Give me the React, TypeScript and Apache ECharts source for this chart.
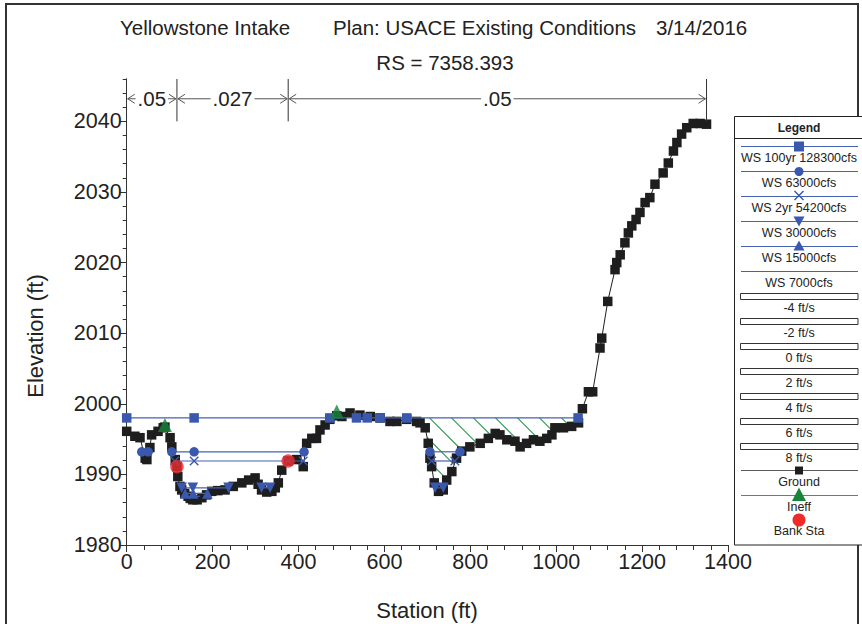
import React, { useEffect, useRef } from "react";
import * as echarts from "echarts";

// ---------- data ----------
const titleParts = ["Yellowstone Intake", "Plan: USACE Existing Conditions", "3/14/2016"];
const subtitle = "RS = 7358.393";
const xAxisName = "Station (ft)";
const yAxisName = "Elevation (ft)";

const groundStation = [0, 19, 31, 43, 47, 54, 58, 73, 85, 89, 101, 105, 113, 117, 119, 124, 128, 135, 143, 148, 154, 164, 175, 186, 198, 212, 229, 248, 268, 284, 299, 306, 314, 326, 338, 346, 353, 361, 376, 396, 411, 419, 431, 442, 450, 462, 473, 489, 501, 520, 543, 567, 590, 613, 629, 652, 675, 683, 695, 702, 706, 710, 716, 726, 737, 745, 757, 768, 780, 799, 823, 842, 858, 869, 885, 904, 916, 931, 947, 962, 978, 990, 997, 1017, 1036, 1052, 1061, 1075, 1085, 1102, 1106, 1120, 1137, 1141, 1149, 1160, 1168, 1176, 1186, 1195, 1207, 1218, 1230, 1249, 1261, 1273, 1281, 1292, 1304, 1319, 1335, 1350];
const groundElevation = [1996.1, 1995.4, 1995.2, 1992.3, 1992.1, 1993.8, 1995.6, 1996.1, 1996.6, 1996.7, 1995.2, 1993.9, 1992.1, 1991.1, 1989.7, 1988.3, 1987.8, 1987.3, 1986.9, 1986.6, 1986.4, 1986.4, 1986.7, 1987.1, 1987.6, 1987.7, 1987.8, 1988.3, 1988.8, 1989.2, 1989.5, 1988.6, 1987.8, 1987.5, 1987.6, 1988.1, 1988.8, 1990.6, 1991.9, 1992.1, 1991.1, 1994.4, 1995.1, 1995.1, 1996.3, 1997.0, 1997.8, 1998.3, 1998.2, 1998.7, 1998.4, 1998.2, 1998.0, 1997.5, 1997.5, 1997.8, 1997.5, 1997.3, 1996.6, 1994.4, 1992.3, 1991.1, 1988.8, 1987.6, 1987.8, 1989.2, 1990.4, 1992.3, 1993.3, 1993.9, 1994.4, 1995.1, 1995.8, 1995.6, 1994.9, 1994.7, 1993.9, 1994.4, 1994.9, 1994.7, 1995.1, 1995.6, 1996.6, 1996.6, 1996.8, 1997.3, 1999.3, 2001.7, 2001.7, 2007.9, 2009.3, 2014.5, 2019.0, 2020.0, 2021.1, 2022.8, 2024.2, 2025.2, 2026.1, 2027.1, 2028.5, 2029.2, 2031.1, 2032.7, 2034.1, 2035.8, 2037.0, 2038.2, 2039.1, 2039.7, 2039.7, 2039.6];

const wsNames = ["WS 100yr 128300cfs", "WS 63000cfs", "WS 2yr 54200cfs", "WS 30000cfs", "WS 15000cfs", "WS 7000cfs"];
const wsElevation = [1998.0, 1993.2, 1991.9, 1988.1, 1987.3, 1986.9];
const ws100Stations = [[0, 157, 473, 535, 560, 590, 652, 1051]];
const ws63000Stations = [[35, 50], [105, 157, 413], [706, 776]];
const ws54200Stations = [[112, 157, 376, 411], [710, 764]];
const ws30000Stations = [[128, 154, 237], [314, 334], [718, 737]];
const ws15000Stations = [[136, 155, 188]];
const ws7000Stations = [[148, 170]];

const ineffStation = [89, 489];
const ineffElevation = [1997.0, 1998.9];
const bankStation = [117, 376];
const bankElevation = [1991.1, 1991.9];

// ineffective (hatched) area on the right overbank, below the 100yr water surface
const hatchFromStation = 652;
const hatchToStation = 1052;

const manningBreaks = [0, 117, 376, 1350];
const manningValues = [".05", ".027", ".05"];

const velocityLabels = ["-4 ft/s", "-2 ft/s", "0 ft/s", "2 ft/s", "4 ft/s", "6 ft/s", "8 ft/s"];
const otherLegend = ["Ground", "Ineff", "Bank Sta"];

// ---------- styles ----------
const FONT = "Liberation Sans, Arial, Helvetica, sans-serif";
const WS_LINE = "#4562b4";
const WS_MARK = "#3a58ad";
const GROUND = "#1e1e1e";
const GREEN = "#17843a";
const HATCH = "#3a9a5a";
const RED = "#ee2a2a";
const TXT = "#222";
const X_PATH = "path://M0,1L1,0L5,4L9,0L10,1L6,5L10,9L9,10L5,6L1,10L0,9L4,5Z";

function xPolygon(cx: number, cy: number, s: number) {
  const pts = [[0, 1], [1, 0], [5, 4], [9, 0], [10, 1], [6, 5], [10, 9], [9, 10], [5, 6], [1, 10], [0, 9], [4, 5]];
  return pts.map(([a, b]) => [cx - s / 2 + (a * s) / 10, cy - s / 2 + (b * s) / 10]);
}

function wsSeries(idx: number, segments: number[][], symbol: string, size: number, rotate = 0) {
  return segments.map((seg) => ({
    type: "line",
    name: wsNames[idx],
    data: seg.map((s) => [s, wsElevation[idx]]),
    symbol,
    symbolSize: size,
    symbolRotate: rotate,
    showSymbol: symbol !== "none",
    lineStyle: { color: WS_LINE, width: 1.2 },
    itemStyle: { color: WS_MARK },
    z: 4,
    silent: true,
  }));
}

function buildOption() {
  const groundData = groundStation.map((s, i) => [s, groundElevation[i]]);
  const hatchPoly: number[][] = [[hatchFromStation, wsElevation[0]]];
  groundStation.forEach((s, i) => {
    if (s >= hatchFromStation && s <= hatchToStation) hatchPoly.push([s, groundElevation[i]]);
  });
  hatchPoly.push([hatchToStation, wsElevation[0]]);

  const manningData = manningValues.map((v, i) => [manningBreaks[i], manningBreaks[i + 1], i]);

  const series: any[] = [
    {
      type: "custom",
      name: "hatch",
      data: [[hatchFromStation, wsElevation[0]]],
      encode: { x: 0, y: 1 },
      z: 1,
      silent: true,
      renderItem: (params: any, api: any) => {
        const poly = hatchPoly.map((p) => api.coord(p));
        const ref = api.coord([705, wsElevation[0]]);
        const phase = ref[0] - ref[1];
        const spacing = 22;
        const xs = poly.map((p) => p[0]);
        const ys = poly.map((p) => p[1]);
        const minC = Math.min(...xs) - Math.max(...ys);
        const maxC = Math.max(...xs) - Math.min(...ys);
        const start = phase + Math.ceil((minC - phase) / spacing) * spacing;
        const children: any[] = [];
        for (let c = start; c <= maxC; c += spacing) {
          const pts: number[][] = [];
          for (let i = 0; i < poly.length; i++) {
            const a = poly[i];
            const b = poly[(i + 1) % poly.length];
            const fa = a[0] - a[1] - c;
            const fb = b[0] - b[1] - c;
            if (fa < 0 !== fb < 0) {
              const t = fa / (fa - fb);
              pts.push([a[0] + t * (b[0] - a[0]), a[1] + t * (b[1] - a[1])]);
            }
          }
          pts.sort((p, q) => p[0] - q[0]);
          for (let k = 0; k + 1 < pts.length; k += 2) {
            children.push({
              type: "line",
              shape: { x1: pts[k][0], y1: pts[k][1], x2: pts[k + 1][0], y2: pts[k + 1][1] },
              style: { stroke: HATCH, lineWidth: 1.2 },
            });
          }
        }
        return { type: "group", children };
      },
    },
    {
      type: "custom",
      name: "manning",
      data: manningData,
      encode: { x: [0, 1] },
      z: 5,
      clip: false,
      silent: true,
      renderItem: (params: any, api: any) => {
        const x0 = api.value(0);
        const x1 = api.value(1);
        const pL = api.coord([x0, 2043.2]);
        const pR = api.coord([x1, 2043.2]);
        const top = api.coord([x1, 2046]);
        const bot = api.coord([x1, 2040]);
        const y = pL[1];
        const ah = 8;
        const aw = 4.5;
        const stroke = "#555";
        return {
          type: "group",
          children: [
            { type: "line", shape: { x1: pL[0] + 1, y1: y, x2: pR[0] - 1, y2: y }, style: { stroke, lineWidth: 1 } },
            { type: "polyline", shape: { points: [[pL[0] + ah, y - aw], [pL[0] + 1, y], [pL[0] + ah, y + aw]] }, style: { stroke, lineWidth: 1, fill: "none" } },
            { type: "polyline", shape: { points: [[pR[0] - ah, y - aw], [pR[0] - 1, y], [pR[0] - ah, y + aw]] }, style: { stroke, lineWidth: 1, fill: "none" } },
            { type: "line", shape: { x1: top[0], y1: top[1], x2: bot[0], y2: bot[1] }, style: { stroke: "#333", lineWidth: 1 } },
            {
              type: "text",
              x: (pL[0] + pR[0]) / 2,
              y,
              style: {
                text: manningValues[params.dataIndex],
                fill: TXT,
                fontSize: 20.5,
                fontFamily: FONT,
                align: "center",
                verticalAlign: "middle",
                backgroundColor: "#fff",
                padding: [0, 2],
              },
            },
          ],
        };
      },
    },
    {
      type: "line",
      name: "Ground",
      data: groundData,
      symbol: "rect",
      symbolSize: 9.5,
      lineStyle: { color: GROUND, width: 1 },
      itemStyle: { color: GROUND },
      z: 3,
      silent: true,
    },
    ...wsSeries(0, ws100Stations, "rect", 9.5),
    ...wsSeries(1, ws63000Stations, "circle", 9.5),
    ...wsSeries(2, ws54200Stations, X_PATH, 9.5),
    ...wsSeries(3, ws30000Stations, "triangle", 10.5, 180),
    ...wsSeries(4, ws15000Stations, "triangle", 10.5),
    ...wsSeries(5, ws7000Stations, "none", 0),
    {
      type: "scatter",
      name: "Ineff",
      data: ineffStation.map((s, i) => [s, ineffElevation[i]]),
      symbol: "triangle",
      symbolSize: 14,
      itemStyle: { color: GREEN },
      z: 6,
      silent: true,
    },
    {
      type: "scatter",
      name: "Bank Sta",
      data: bankStation.map((s, i) => [s, bankElevation[i]]),
      symbol: "circle",
      symbolSize: 13.5,
      itemStyle: { color: RED },
      z: 7,
      silent: true,
    },
  ];

  // ---------- legend & frame graphics ----------
  const g: any[] = [];
  const T = (x: number, y: number, text: string, size: number, align = "left", extra: any = {}) => ({
    type: "text",
    x,
    y,
    ...extra,
    style: { text, fontSize: size, fontFamily: FONT, fill: TXT, align, verticalAlign: "middle" },
  });
  g.push({ type: "rect", z: 0, shape: { x: 6, y: 4, width: 852, height: 640 }, style: { fill: "none", stroke: "#333", lineWidth: 2 } });
  g.push(T(120, 27, titleParts[0], 20.5));
  g.push(T(333, 27, titleParts[1], 20.5));
  g.push(T(656, 27, titleParts[2], 20.5));
  g.push(T(445, 62, subtitle, 20.5, "center"));
  g.push(T(427, 610, xAxisName, 22, "center"));
  g.push(T(35, 336, yAxisName, 22, "center", { rotation: Math.PI / 2 }));

  const LX = 734.5;
  const cx = 799;
  g.push({ type: "rect", z: 10, shape: { x: LX, y: 116.5, width: 140, height: 428.5 }, style: { fill: "#fff", stroke: "#222", lineWidth: 1 } });
  g.push({ type: "text", z: 11, x: cx, y: 128, style: { text: "Legend", fontSize: 12, fontWeight: "bold", fontFamily: FONT, fill: TXT, align: "center", verticalAlign: "middle" } });
  g.push({ type: "line", z: 11, shape: { x1: LX, y1: 138.5, x2: 862, y2: 138.5 }, style: { stroke: "#222", lineWidth: 1 } });

  const lbl = (text: string, y: number) => ({ type: "text", z: 11, x: cx, y, style: { text, fontSize: 12.5, fontFamily: FONT, fill: TXT, align: "center", verticalAlign: "middle" } });
  wsNames.forEach((name, i) => {
    const y = 146.5 + 25 * i;
    g.push({ type: "line", z: 11, shape: { x1: 741, y1: y, x2: 858, y2: y }, style: { stroke: WS_LINE, lineWidth: 1.2 } });
    if (i === 0) g.push({ type: "rect", z: 12, shape: { x: cx - 5, y: y - 5, width: 10, height: 10 }, style: { fill: WS_MARK } });
    if (i === 1) g.push({ type: "circle", z: 12, shape: { cx, cy: y, r: 4.5 }, style: { fill: WS_MARK } });
    if (i === 2) g.push({ type: "polygon", z: 12, shape: { points: xPolygon(cx, y - 1, 10) }, style: { fill: WS_MARK } });
    if (i === 3) g.push({ type: "polygon", z: 12, shape: { points: [[cx - 5.5, y - 5], [cx + 5.5, y - 5], [cx, y + 5]] }, style: { fill: WS_MARK } });
    if (i === 4) g.push({ type: "polygon", z: 12, shape: { points: [[cx - 5.5, y + 4], [cx + 5.5, y + 4], [cx, y - 6]] }, style: { fill: WS_MARK } });
    g.push(lbl(name, y + 11.5));
  });
  velocityLabels.forEach((name, j) => {
    const y = 293.5 + 25 * j;
    g.push({ type: "rect", z: 11, shape: { x: 740.5, y, width: 117.5, height: 6 }, style: { fill: "#fff", stroke: "#333", lineWidth: 1 } });
    g.push(lbl(name, y + 14));
  });
  // Ground
  g.push({ type: "line", z: 11, shape: { x1: 741, y1: 470.5, x2: 858, y2: 470.5 }, style: { stroke: "#5a5a5a", lineWidth: 1.2 } });
  g.push({ type: "rect", z: 12, shape: { x: cx - 4, y: 466.5, width: 8, height: 8 }, style: { fill: GROUND } });
  g.push(lbl(otherLegend[0], 481.7));
  // Ineff
  g.push({ type: "line", z: 11, shape: { x1: 741, y1: 495.5, x2: 858, y2: 495.5 }, style: { stroke: "#3a9a5e", lineWidth: 1.2 } });
  g.push({ type: "polygon", z: 12, shape: { points: [[cx - 7, 501], [cx + 7, 501], [cx, 487.5]] }, style: { fill: GREEN } });
  g.push(lbl(otherLegend[1], 506.7));
  // Bank
  g.push({ type: "circle", z: 12, shape: { cx, cy: 520, r: 6.5 }, style: { fill: RED } });
  g.push(lbl(otherLegend[2], 531));

  const axisCommon = {
    type: "value",
    splitLine: { show: false },
    axisLine: { show: true, onZero: false, lineStyle: { color: "#333", width: 1 } },
  };
  const plain = (v: number) => String(v);

  return {
    animation: false,
    backgroundColor: "#fff",
    textStyle: { fontFamily: FONT },
    grid: { left: 126.7, right: 862 - 728, top: 79, bottom: 624 - 545, containLabel: false },
    xAxis: {
      ...axisCommon,
      min: 0,
      max: 1400,
      interval: 200,
      axisTick: { show: true, length: 7, lineStyle: { color: "#333" } },
      minorTick: { show: true, splitNumber: 5, length: 5, lineStyle: { color: "#333" } },
      axisLabel: { fontSize: 21.5, color: TXT, margin: 6, fontFamily: FONT, formatter: plain },
    },
    yAxis: [
      {
        ...axisCommon,
        min: 1980,
        max: 2046,
        interval: 10,
        axisTick: { show: true, length: 7, lineStyle: { color: "#333" } },
        axisLabel: { fontSize: 21.5, color: TXT, margin: 5, fontFamily: FONT, showMaxLabel: false, formatter: plain },
      },
      {
        ...axisCommon,
        position: "left",
        min: 1980,
        max: 2046,
        interval: 2,
        axisTick: { show: true, length: 4, lineStyle: { color: "#333" } },
        axisLabel: { show: false },
      },
    ],
    graphic: { elements: g },
    series,
  };
}

export default function App() {
  const ref = useRef<HTMLDivElement>(null);
  useEffect(() => {
    document.body.style.margin = "0";
    const chart = echarts.init(ref.current as HTMLDivElement, null, { renderer: "svg" });
    chart.setOption(buildOption() as any);
    return () => chart.dispose();
  }, []);
  return <div ref={ref} style={{ width: 862, height: 624 }} />;
}
